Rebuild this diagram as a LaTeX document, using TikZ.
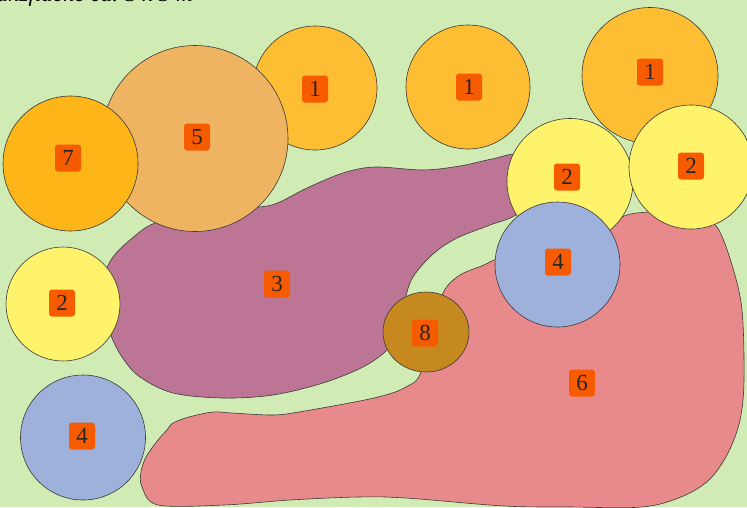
\documentclass[tikz,border=0pt]{standalone}
\usepackage{fontspec}
\setmainfont{Liberation Serif}
\definecolor{bg}{HTML}{D1EBB4}
\definecolor{cA}{HTML}{FDBE33}
\definecolor{cFive}{HTML}{EFB462}
\definecolor{cSeven}{HTML}{FDB517}
\definecolor{cTwo}{HTML}{FFF36B}
\definecolor{cFour}{HTML}{9DB1DB}
\definecolor{cEight}{HTML}{C68920}
\definecolor{cThree}{HTML}{BC7594}
\definecolor{cSix}{HTML}{E8898C}
\definecolor{labc}{HTML}{F65B00}
\definecolor{edge}{HTML}{3A3A3A}
\tikzset{
  bed/.style={draw=edge, line width=0.6pt},
  lab/.style={fill=labc, rounded corners=3pt, minimum width=26pt, minimum height=27pt,
    inner sep=1pt, text=black!85, font=\fontsize{23}{23}\selectfont},
}
\begin{document}
\begin{tikzpicture}[x=1pt,y=-1pt]
\useasboundingbox (0,0) rectangle (747,507);
\fill[bg] (0,0) rectangle (747,507);
\node[anchor=base east, font=\itshape\fontsize{23}{23}\selectfont, inner sep=0pt] (title) at (193,1.5) {Pflanzfläche ca. 3 x 3 m};
% shape 3
\draw[bed, fill=cThree] plot[smooth cycle, tension=0.55] coordinates {
 (200,215) (250,208) (275,204) (307,188) (343,173) (375,167) (423,170) (460,166)
 (492,159) (520,155) (537,180) (518,213) (490,225) (457,238) (433,254) (413,277)
 (405,300) (400,330) (387,350) (363,367) (323,383) (273,395) (223,398) (173,393)
 (140,377) (122,357) (110,333) (103,307) (105,275) (113,257) (130,240) (155,223)};
% shape 6
\draw[bed, fill=cSix] plot[smooth cycle, tension=0.55] coordinates {
 (440,300) (457,277) (484,265) (500,258) (560,240) (612,225) (622,217) (637,213)
 (670,212) (700,222) (717,227) (732,265) (742,310) (744,380) (740,420) (728,453)
 (709,480) (681,497) (642,507) (570,507) (504,506) (406,498) (358,497) (290,500)
 (224,505) (158,505) (142,487) (141,472) (146,457) (158,440) (167,430) (173,423)
 (189,417) (213,412) (232,413) (272,415) (299,412) (374,398) (406,387) (422,370)};
% circles
\draw[bed, fill=cA] (315,88) circle[radius=62];
\draw[bed, fill=cA] (468,87) circle[radius=62];
\draw[bed, fill=cA] (650,75.5) circle[radius=68];
\draw[bed, fill=cFive] (195,138.5) circle[radius=93];
\draw[bed, fill=cSeven] (70.5,163.5) circle[radius=67.5];
\draw[bed, fill=cTwo] (63,304) circle[radius=57];
\draw[bed, fill=cFour] (83,437.5) circle[radius=62.5];
\draw[bed, fill=cTwo] (570,181.5) circle[radius=63];
\draw[bed, fill=cTwo] (691,167) circle[radius=62];
\draw[bed, fill=cFour] (557.5,264.5) circle[radius=62.5];
\draw[bed, fill=cEight] (426,332) ellipse[x radius=43, y radius=40];
% labels
\node[lab] (l1a) at (315,89) {1};
\node[lab] (l1b) at (469,87) {1};
\node[lab] (l1c) at (650,72) {1};
\node[lab] (l5) at (197,137) {5};
\node[lab] (l7) at (68,158) {7};
\node[lab] (l2a) at (62,303) {2};
\node[lab] (l2b) at (567,177) {2};
\node[lab] (l2c) at (691,166) {2};
\node[lab] (l3) at (277,284) {3};
\node[lab] (l4b) at (558,262) {4};
\node[lab] (l8) at (425,333) {8};
\node[lab] (l6) at (582,383) {6};
\node[lab] (l4a) at (82,436) {4};
\end{tikzpicture}
\end{document}
